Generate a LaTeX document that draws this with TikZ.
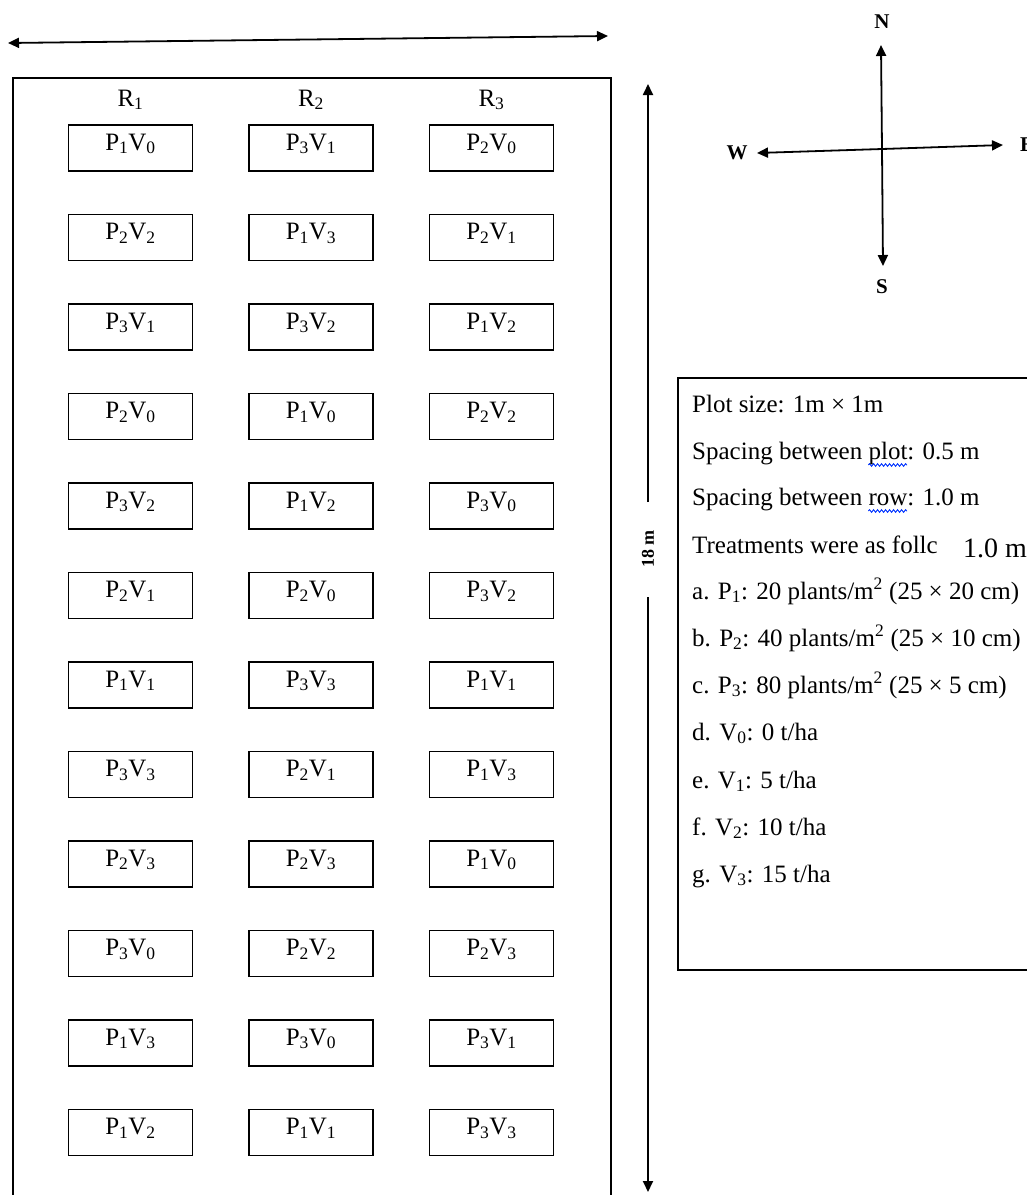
\documentclass[tikz,border=0pt]{standalone}
\usepackage{fontspec}
\setmainfont{Liberation Serif}
\usetikzlibrary{arrows.meta,decorations.pathmorphing}
\newcommand\plotlab[2]{P\textsubscript{#1}V\textsubscript{#2}}
\newcommand\legfont{\fontsize{25}{29}\selectfont}
\newlength\wavestart
\newlength\waveplot
\newlength\waverow
\begin{document}
\settowidth{\wavestart}{\legfont Spacing between }
\settowidth{\waveplot}{\legfont plot}
\settowidth{\waverow}{\legfont row}
\begin{tikzpicture}[x=1pt,y=-1pt,
  plotbox/.style={draw,line width=1.2pt,minimum width=124pt,minimum height=46pt,inner sep=0pt,
    text height=16pt,text depth=12pt,font=\fontsize{25}{29}\selectfont},
  reptext/.style={anchor=base,inner sep=0pt,font=\fontsize{25}{29}\selectfont},
  legtext/.style={anchor=base west,inner sep=0pt,font=\legfont},
  dirlbl/.style={inner sep=0pt,font=\fontsize{21}{24}\selectfont\bfseries},
  arr/.style={line width=1.8pt,-{Triangle[length=11pt,width=10pt]}},
  dblarr/.style={line width=1.8pt,{Triangle[length=11pt,width=10pt]}-{Triangle[length=11pt,width=10pt]}},
  spellwave/.style={draw=blue!80!cyan,line width=0.9pt,decorate,decoration={snake,segment length=4pt,amplitude=1.3pt}}]
\clip (0,0) rectangle (1027,1195);
\fill[white] (0,0) rectangle (1027,1195);

% top width arrow
\coordinate (wl) at (8,43);
\coordinate (wr) at (608,36);
\draw[dblarr] (wl) -- (wr);

% field boundary
\draw[line width=2.5pt] (13,1230) -- (13,78) -- (611,78) -- (611,1230);

% replication labels
\node[reptext] (r1) at (130.5,106) {R\textsubscript{1}};
\node[reptext] (r2) at (311,106) {R\textsubscript{2}};
\node[reptext] (r3) at (491.5,106) {R\textsubscript{3}};

% plots
\foreach \rowlist [count=\r] in {{10,31,20},{22,13,21},{31,32,12},{20,10,22},{32,12,30},{21,20,32},
  {11,33,11},{33,21,13},{23,23,10},{30,22,23},{13,30,31},{12,11,33}}{
  \foreach \cell [count=\c] in \rowlist {
    \node[plotbox] (p-\r-\c) at ({130.5+(\c-1)*180.5},{148+(\r-1)*89.5}) {\expandafter\plotlab\cell};
  }
}

% 18 m arrow
\node[inner sep=0pt,rotate=90,font=\fontsize{18}{21}\selectfont\bfseries] (len) at (648,549) {18 m};
\coordinate (lt) at (648,84);
\coordinate (lb) at (648,1192);
\coordinate (lu) at (648,502);
\coordinate (ld) at (648,597);
\draw[arr] (lu) -- (lt);
\draw[arr] (ld) -- (lb);

% compass
\coordinate (cc) at (882,149);
\coordinate (cn) at (881,45);
\coordinate (cs) at (883,266);
\coordinate (cw) at (757,153);
\coordinate (ce) at (1003,145);
\draw[arr] (cc) -- (cn);
\draw[arr] (cc) -- (cs);
\draw[arr] (cc) -- (cw);
\draw[arr] (cc) -- (ce);
\node[dirlbl] (dn) at (882,22) {N};
\node[dirlbl] (ds) at (882,287) {S};
\node[dirlbl] (dw) at (737,153) {W};
\node[dirlbl,anchor=west] (de) at (1020,145) {E};

% legend
\draw[line width=1.3pt] (678,378) rectangle (1045,970);
\node[legtext] (t1) at (692,412) {Plot size: 1m × 1m};
\node[legtext] (t2) at (692,459) {Spacing between plot: 0.5 m};
\node[legtext] (t3) at (692,505) {Spacing between row: 1.0 m};
\node[legtext] (t4) at (692,553) {Treatments were as follc};
\node[legtext,fill=white,inner sep=1pt,font=\fontsize{28}{32}\selectfont] (t4b) at (962,557) {1.0 m};
\node[legtext] (t5) at (692,599) {a. P\textsubscript{1}: 20 plants/m\textsuperscript{2} (25 × 20 cm)};
\node[legtext] (t6) at (692,646) {b. P\textsubscript{2}: 40 plants/m\textsuperscript{2} (25 × 10 cm)};
\node[legtext] (t7) at (692,693) {c. P\textsubscript{3}: 80 plants/m\textsuperscript{2} (25 × 5 cm)};
\node[legtext] (t8) at (692,740) {d. V\textsubscript{0}: 0 t/ha};
\node[legtext] (t9) at (692,788) {e. V\textsubscript{1}: 5 t/ha};
\node[legtext] (t10) at (692,835) {f. V\textsubscript{2}: 10 t/ha};
\node[legtext] (t11) at (692,882) {g. V\textsubscript{3}: 15 t/ha};

% spell-check squiggles
\coordinate (w2) at ([xshift=\wavestart,yshift=-6pt]t2.base west);
\coordinate (w3) at ([xshift=\wavestart,yshift=-6pt]t3.base west);
\draw[spellwave] (w2) -- ++(\waveplot,0);
\draw[spellwave] (w3) -- ++(\waverow,0);
\end{tikzpicture}
\end{document}
